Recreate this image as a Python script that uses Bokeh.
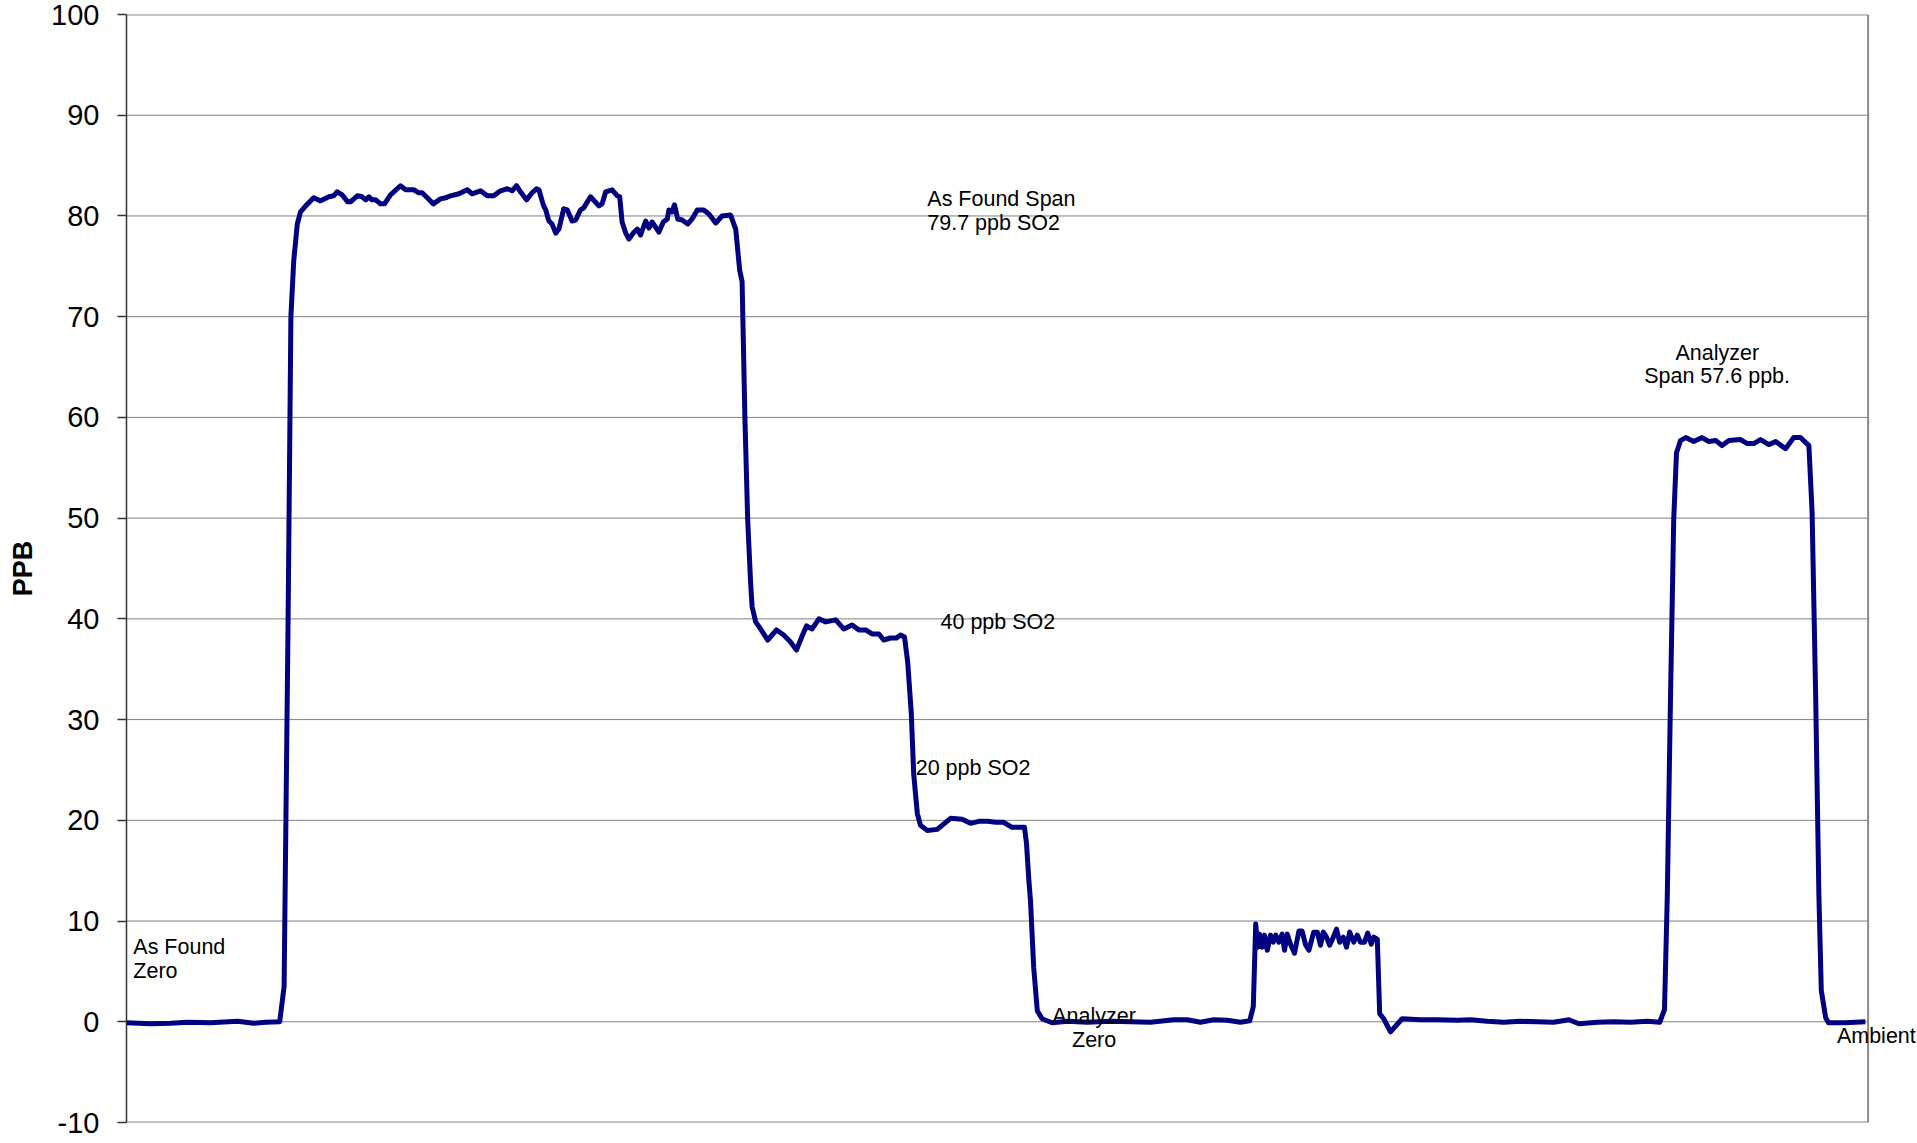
from bokeh.plotting import figure
from bokeh.models import Range1d, FixedTicker, Label
from bokeh.embed import file_html
from bokeh.resources import INLINE

# ---- data (time in minutes, SO2 in ppb) ----
time_min = [0, 6.0, 11.0, 15.3, 21.0, 27.8, 31.8, 34.8, 38.3, 39.4, 40.4, 41.1, 41.8, 42.7, 43.5, 44.8,
            46.8, 48.5, 50.6, 51.8, 52.7, 53.9, 55.3, 56.0, 57.7, 58.9, 59.8, 60.6, 61.4, 62.3, 63.5, 64.5,
            66.0, 68.5, 69.8, 71.8, 73.1, 73.9, 75.2, 76.7, 78.5, 79.8, 81.0, 83.1, 85.2, 86.4, 88.5, 90.2,
            91.8, 93.5, 95.2, 96.4, 97.5, 98.5, 100.0, 101.4, 102.5, 103.1, 104.2, 104.8, 105.6, 106.4,
            107.3, 108.1, 109.3, 110.2, 111.4, 112.3, 113.5, 114.3, 116.0, 118.1, 118.9, 119.8, 121.4,
            122.7, 123.3, 123.9, 124.8, 125.6, 126.7, 127.7, 128.5, 129.8, 130.6, 131.4, 133.1, 134.2,
            135.2, 135.6, 136.4, 137.0, 137.8, 138.9, 140.3, 141.4, 142.7, 144.3, 145.6, 147.3, 148.9,
            151.0, 152.3, 153.3, 153.9, 154.6, 155.3, 156.0, 156.4, 157.3, 158.5, 160.3, 162.5, 164.3,
            166.0, 167.5, 168.9, 170.0, 171.4, 173.1, 174.8, 177.3, 179.3, 181.4, 183.1, 184.8, 186.4,
            188.1, 189.3, 191.0, 192.5, 193.5, 194.5, 195.3, 196.2, 196.8, 197.7, 198.5, 200.2, 202.7,
            203.9, 206.0, 208.9, 211.0, 213.1, 215.2, 217.3, 219.3, 221.4, 223.1, 224.5, 225.0, 225.6,
            226.0, 226.8, 227.7, 228.9, 231.4, 235.2, 240.2, 246.0, 251.0, 256.0, 261.8, 265.2, 268.5,
            271.8, 275.2, 278.5, 280.8, 281.7, 282.3, 282.8, 283.3, 283.9, 284.5, 285.2, 286.0, 286.7,
            287.3, 288.1, 288.9, 289.5, 290.2, 291.0, 292.0, 293.1, 293.9, 294.8, 295.6, 296.8, 297.7,
            298.5, 299.2, 300.0, 300.8, 301.7, 302.5, 303.3, 304.2, 305.0, 305.8, 306.8, 307.7, 308.5,
            309.5, 310.3, 311.2, 311.8, 312.7, 313.3, 314.3, 316.0, 318.9, 323.5, 327.7, 332.7, 336.0,
            340.2, 344.3, 348.5, 352.7, 356.8, 360.6, 363.1, 367.7, 371.8, 376.0, 380.2, 383.3, 384.5,
            385.2, 386.0, 386.8, 387.5, 388.5, 389.8, 391.8, 393.9, 395.6, 397.3, 398.9, 400.6, 403.5,
            405.2, 406.8, 408.5, 410.6, 412.3, 413.3, 414.8, 416.8, 418.5, 420.6, 421.4, 422.3, 423.1,
            423.7, 424.8, 425.5, 429.7, 434.7]

so2_ppb = [-0.1, -0.2, -0.15, -0.05, -0.1, 0.05, -0.15, -0.05, 0.0, 3.5, 40.0, 70.0, 75.5, 79.2, 80.4, 81.0,
           81.8, 81.5, 81.9, 82.0, 82.4, 82.1, 81.4, 81.4, 82.0, 81.9, 81.6, 81.9, 81.6, 81.6, 81.2, 81.2,
           82.1, 83.0, 82.6, 82.6, 82.3, 82.3, 81.8, 81.2, 81.7, 81.8, 82.0, 82.2, 82.6, 82.2, 82.5, 82.0,
           82.0, 82.5, 82.7, 82.5, 83.0, 82.4, 81.6, 82.3, 82.7, 82.6, 81.1, 80.6, 79.5, 79.2,
           78.3, 78.7, 80.7, 80.6, 79.5, 79.6, 80.6, 80.8, 81.9, 81.0, 81.2, 82.4, 82.6,
           82.0, 81.9, 79.4, 78.3, 77.7, 78.3, 78.7, 78.1, 79.5, 78.8, 79.4, 78.4, 79.4,
           79.7, 80.6, 80.4, 81.1, 79.7, 79.6, 79.2, 79.7, 80.6, 80.6, 80.2, 79.3, 80.0,
           80.1, 78.7, 74.6, 73.5, 60.0, 49.8, 43.8, 41.2, 39.7, 39.0, 37.9, 38.9, 38.4,
           37.7, 36.9, 38.3, 39.3, 39.0, 40.0, 39.7, 39.9, 39.0, 39.4, 38.9, 38.9, 38.5,
           38.5, 37.9, 38.1, 38.1, 38.4, 38.2, 35.7, 30.6, 24.6, 20.7, 19.5, 19.0, 19.1,
           19.5, 20.2, 20.1, 19.7, 19.9, 19.9, 19.8, 19.8, 19.3, 19.3, 19.3, 17.7, 14.0,
           12.0, 5.4, 1.1, 0.3, -0.1, 0.05, -0.05, 0.05, 0.0, -0.05, 0.2, 0.2, -0.05,
           0.2, 0.15, -0.05, 0.1, 1.5, 9.7, 7.4, 8.7, 7.4, 8.6, 7.1, 8.6, 7.9,
           8.6, 7.9, 8.7, 7.1, 8.7, 7.7, 6.8, 9.0, 9.0, 7.6, 7.1, 8.9, 8.9,
           7.6, 8.9, 8.4, 7.6, 8.4, 9.2, 7.9, 8.4, 7.4, 8.9, 7.9, 8.6, 7.9,
           7.9, 8.8, 7.7, 8.4, 8.2, 0.8, 0.3, -1.0, 0.3, 0.2, 0.2, 0.15, 0.2,
           0.05, -0.05, 0.05, 0.0, -0.05, 0.2, -0.2, -0.05, 0.0, -0.05, 0.05, -0.05, 1.2,
           12.5, 32.2, 49.8, 56.5, 57.7, 58.0, 57.6, 58.0, 57.6, 57.7, 57.2, 57.7, 57.8,
           57.4, 57.4, 57.8, 57.3, 57.6, 57.3, 56.9, 58.0, 58.0, 57.2, 50.6, 32.2, 12.5,
           3.1, 0.4, -0.1, -0.1, 0.0]

assert len(time_min) == len(so2_ppb), (len(time_min), len(so2_ppb))

t_start, t_end = 0.0, 435.4          # extent of the recorded period (plot-area edges)
y_ticks = [-10, 0, 10, 20, 30, 40, 50, 60, 70, 80, 90, 100]
y_tick_labels = ["-10", "0", "10", "20", "30", "40", "50", "60", "70", "80", "90", "100"]
y_label = "PPB"

# annotation texts with their anchor (time, ppb) and alignment
note_text = ["As Found", "Zero", "As Found Span", "79.7 ppb SO2", "40 ppb SO2", "20 ppb SO2",
             "Analyzer", "Zero", "Analyzer", "Span 57.6  ppb.", "Ambient"]
note_t = [1.7, 1.7, 200.2, 200.2, 203.5, 197.3, 241.9, 241.9, 397.7, 398.4, 427.6]
note_v = [7.4, 5.0, 81.7, 79.3, 39.7, 25.2, 0.56, -1.82, 66.4, 64.1, -1.42]
note_align = ["left", "left", "left", "left", "left", "left", "center", "center", "center", "center", "left"]

FONT = "Liberation Sans"
GRID = "#808080"
BORDER = "#8a8a8a"

p = figure(width=1917, height=1141, output_backend="svg", toolbar_location=None,
           x_range=Range1d(t_start, 447.75), y_range=Range1d(-10, 100),
           min_border_left=126, min_border_right=0, min_border_top=14, min_border_bottom=19,
           background_fill_color="white", border_fill_color="white")

p.xaxis.visible = False
p.xgrid.visible = False
p.ygrid.visible = False
p.outline_line_color = None

p.yaxis.ticker = FixedTicker(ticks=y_ticks)
p.yaxis.major_label_overrides = {t: lab for t, lab in zip(y_ticks, y_tick_labels)}
p.yaxis.major_label_text_font = FONT
p.yaxis.major_label_text_font_size = "29px"
p.yaxis.major_label_text_color = "black"
p.yaxis.major_tick_out = 9
p.yaxis.major_tick_in = 0
p.yaxis.minor_tick_out = 0
p.yaxis.minor_tick_in = 0
p.yaxis.major_tick_line_color = "#333333"
p.yaxis.major_tick_line_width = 1.5
p.yaxis.axis_line_color = "#333333"
p.yaxis.axis_line_width = 1.5
p.yaxis.major_label_standoff = 18
p.yaxis.axis_label = y_label
p.yaxis.axis_label_text_font = FONT
p.yaxis.axis_label_text_font_size = "27px"
p.yaxis.axis_label_text_font_style = "bold"
p.yaxis.axis_label_text_color = "black"
p.yaxis.axis_label_standoff = 10

# horizontal gridlines across the recorded period only
inner = y_ticks[1:-1]
p.segment(x0=[t_start] * len(inner), x1=[t_end] * len(inner), y0=inner, y1=inner,
          line_color=GRID, line_width=1)
# plot-area border: top, bottom and right
p.segment(x0=[t_start, t_start], x1=[t_end, t_end], y0=[y_ticks[-1], y_ticks[0]],
          y1=[y_ticks[-1], y_ticks[0]], line_color=BORDER, line_width=2)
p.segment(x0=[t_end], x1=[t_end], y0=[y_ticks[0]], y1=[y_ticks[-1]], line_color=BORDER, line_width=2)

p.line(time_min, so2_ppb, line_color="#000080", line_width=5, line_join="round")

for txt, t, v, al in zip(note_text, note_t, note_v, note_align):
    p.add_layout(Label(x=t, y=v, text=txt, text_align=al, text_baseline="alphabetic",
                       text_font=FONT, text_font_size="21.5px", text_color="black"))

open("out.html", "w").write(file_html(p, INLINE))
